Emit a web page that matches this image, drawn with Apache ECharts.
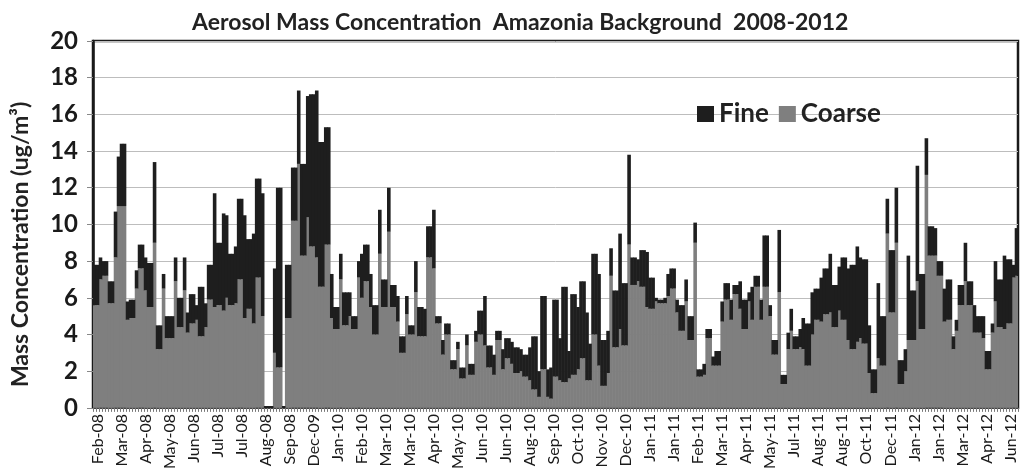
<!DOCTYPE html>
<html>
<head>
<meta charset="utf-8">
<script src="https://cdn.jsdelivr.net/npm/echarts@6/dist/echarts.min.js"></script>
<style>
  html, body { margin: 0; padding: 0; background: #fff; }
  #chart { width: 1021px; height: 472px; }
</style>
</head>
<body>
<div id="chart"></div>
<script>
// tick labels, one every 8 samples (starting at sample 1)
const dateLabels = [
  "Feb-08", "Mar-08", "Apr-08", "May-08", "Jun-08", "Jul-08", "Jul-08", "Aug-08", "Sep-08", "Dec-09",
  "Jan-10", "Feb-10", "Mar-10", "Mar-10", "Apr-10", "May-10", "Jun-10", "Jun-10", "Aug-10", "Sep-10",
  "Oct-10", "Nov-10", "Dec-10", "Jan-11", "Jan-11", "Feb-11", "Mar-11", "Apr-11", "May-11", "Jul-11",
  "Aug-11", "Aug-11", "Oct-11", "Dec-11", "Jan-12", "Jan-12", "Mar-12", "Apr-12", "Jun-12"
];

// coarse mode (bottom, grey), ug/m3
const coarse = [
  5.6, 5.6, 7.0, 7.2, 7.2, 5.7, 5.7, 8.2, 11.0, 11.0,
  11.0, 4.8, 4.9, 4.9, 6.5, 7.6, 7.6, 6.4, 5.5, 5.5,
  9.0, 3.2, 3.2, 6.5, 3.8, 3.8, 3.8, 6.9, 4.4, 4.4,
  6.4, 4.1, 4.6, 4.6, 4.8, 3.9, 3.9, 4.4, 5.9, 5.9,
  5.5, 5.6, 5.6, 5.3, 6.0, 5.6, 5.6, 5.7, 7.0, 7.0,
  4.9, 5.4, 5.4, 4.6, 7.1, 7.1, 5.0, 0, 0, 0,
  3.0, 2.2, 2.2, 0, 4.9, 4.9, 10.2, 10.2, 13.3, 8.3,
  8.3, 10.4, 8.8, 8.8, 8.2, 6.6, 6.6, 8.9, 8.9, 4.9,
  4.3, 4.3, 7.0, 4.5, 4.5, 5.0, 4.3, 4.3, 7.1, 6.0,
  6.9, 6.9, 5.5, 4.0, 4.0, 8.4, 5.5, 5.5, 9.6, 5.5,
  5.5, 4.7, 3.0, 3.0, 5.1, 4.0, 4.0, 6.3, 3.9, 3.9,
  3.9, 8.2, 8.2, 7.6, 4.6, 4.6, 2.9, 4.0, 4.0, 2.1,
  2.1, 3.2, 1.6, 1.6, 3.4, 1.8, 1.8, 3.6, 4.0, 4.0,
  3.4, 2.2, 2.2, 1.8, 3.7, 3.7, 2.1, 2.7, 2.7, 2.4,
  1.9, 1.9, 2.0, 1.7, 1.7, 1.5, 1.0, 1.0, 0.6, 2.1,
  2.1, 0.6, 0.5, 1.7, 1.7, 1.5, 1.4, 1.4, 1.6, 1.8,
  1.8, 2.1, 2.7, 2.7, 1.5, 1.5, 4.0, 4.0, 2.3, 1.2,
  1.2, 1.9, 7.2, 3.3, 3.3, 4.3, 3.4, 3.4, 8.9, 6.7,
  6.7, 6.9, 6.6, 6.6, 5.5, 5.4, 5.4, 5.8, 5.7, 5.7,
  5.7, 6.1, 6.5, 6.5, 5.2, 4.2, 4.2, 5.8, 3.7, 3.7,
  9.0, 1.7, 1.7, 1.8, 3.8, 3.8, 2.3, 2.3, 2.3, 4.7,
  5.9, 5.9, 4.8, 6.2, 6.2, 5.4, 4.3, 4.3, 5.8, 4.8,
  6.6, 6.6, 4.8, 6.6, 6.6, 5.0, 2.9, 2.9, 6.3, 1.3,
  1.3, 3.2, 4.2, 3.2, 3.2, 3.3, 3.2, 2.3, 2.3, 4.0,
  4.8, 4.8, 4.7, 5.1, 5.1, 5.2, 4.4, 4.4, 5.3, 4.8,
  4.8, 3.7, 3.2, 3.2, 3.6, 3.8, 3.5, 3.5, 1.9, 0.8,
  0.8, 2.7, 2.3, 2.3, 9.5, 5.2, 5.2, 9.0, 1.3, 1.3,
  2.0, 3.7, 3.7, 3.7, 6.9, 4.3, 4.3, 12.7, 8.3, 8.3,
  8.3, 7.2, 7.2, 4.7, 4.8, 4.8, 3.2, 4.2, 5.6, 5.6,
  6.9, 5.6, 5.6, 4.1, 4.1, 4.1, 3.8, 2.1, 2.1, 4.1,
  5.8, 4.4, 4.4, 4.3, 4.6, 4.6, 7.1, 7.2
];

// fine mode (stacked on top, black), ug/m3
const fine = [
  2.2, 2.2, 1.2, 0.8, 0.8, 1.2, 1.2, 2.5, 2.7, 3.4,
  3.4, 1.0, 1.0, 1.0, 1.0, 1.3, 1.3, 1.8, 2.4, 2.4,
  4.4, 1.3, 1.3, 0.8, 1.2, 1.2, 1.2, 1.3, 1.6, 1.6,
  1.8, 1.1, 1.6, 1.6, 0.8, 2.7, 2.7, 1.3, 1.9, 1.9,
  6.2, 3.4, 3.4, 5.3, 4.5, 2.8, 2.8, 3.1, 4.4, 4.4,
  5.6, 3.8, 3.8, 4.9, 5.4, 5.4, 6.7, 0.1, 0.1, 0.1,
  4.6, 9.8, 9.8, 0.1, 2.9, 2.9, 2.9, 2.9, 4.0, 5.0,
  5.0, 6.6, 8.3, 8.3, 9.1, 7.9, 7.9, 6.4, 6.4, 2.4,
  1.2, 1.2, 1.4, 1.8, 1.8, 1.3, 0.7, 0.7, 0.9, 2.4,
  2.0, 2.0, 1.8, 1.6, 1.6, 2.4, 1.5, 1.5, 2.4, 1.2,
  1.2, 1.4, 0.9, 0.9, 1.0, 0.5, 0.5, 1.7, 1.6, 1.6,
  1.5, 1.7, 1.7, 3.2, 0.4, 0.4, 0.8, 0.6, 0.6, 0.5,
  0.5, 0.4, 0.6, 0.6, 0.6, 0.6, 0.6, 0.6, 1.3, 1.3,
  2.7, 1.2, 1.2, 1.1, 0.5, 0.5, 1.1, 1.1, 1.1, 1.2,
  1.4, 1.4, 1.2, 1.2, 1.2, 1.8, 2.9, 2.9, 1.4, 4.0,
  4.0, 1.5, 1.7, 4.2, 4.2, 2.3, 5.2, 5.2, 1.5, 4.4,
  4.4, 3.4, 4.2, 4.2, 3.7, 2.0, 4.4, 4.4, 5.0, 2.5,
  2.5, 2.3, 1.5, 3.1, 3.1, 5.2, 3.4, 3.4, 4.9, 1.5,
  1.5, 1.2, 2.0, 2.0, 3.0, 1.7, 1.7, 0.2, 0.2, 0.2,
  0.3, 1.2, 1.1, 1.1, 0.7, 1.4, 1.4, 1.2, 1.3, 1.3,
  1.1, 0.4, 0.4, 0.6, 0.5, 0.5, 0.5, 0.8, 0.8, 1.1,
  0.9, 0.9, 1.1, 0.5, 0.5, 1.5, 1.6, 1.6, 0.5, 1.8,
  0.6, 0.6, 1.1, 2.8, 2.8, 0.6, 0.8, 0.8, 3.4, 0.5,
  0.5, 0.9, 1.2, 0.7, 0.7, 1.0, 1.7, 2.3, 2.3, 2.3,
  1.7, 1.7, 2.4, 2.5, 2.5, 3.2, 2.3, 2.3, 2.4, 3.4,
  3.4, 3.9, 4.6, 4.6, 5.2, 4.4, 4.6, 4.6, 2.6, 1.3,
  1.3, 4.1, 2.7, 2.7, 1.9, 3.4, 3.4, 3.0, 1.3, 1.3,
  1.2, 4.6, 2.7, 2.7, 6.3, 3.0, 3.0, 2.0, 1.6, 1.6,
  1.5, 0.8, 0.8, 1.8, 2.2, 2.2, 0.7, 0.6, 1.1, 1.1,
  2.1, 1.3, 1.3, 1.5, 0.9, 0.9, 1.2, 1.0, 1.0, 0.5,
  2.2, 2.6, 2.6, 4.0, 3.5, 3.5, 0.7, 2.6
];

const samples = coarse.map((_, i) => "s" + i);
const showLabel = (i) => i % 8 === 1;

const chart = echarts.init(document.getElementById("chart"));

chart.setOption({
  animation: false,
  title: {
    text: "Aerosol Mass Concentration  Amazonia Background  2008-2012",
    left: 187,
    top: 6,
    textStyle: { fontFamily: "Lato", fontWeight: "bold", fontSize: 23, color: "#222" },
  },
  legend: {
    data: ["Fine", "Coarse"],
    left: 692,
    top: 96,
    icon: "rect",
    itemWidth: 17,
    itemHeight: 16,
    itemGap: 10,
    textStyle: { fontFamily: "Lato", fontWeight: "bold", fontSize: 26, color: "#222" },
  },
  grid: {
    left: 93,
    right: 3,
    top: 41,
    bottom: 64,
    show: true,
    borderColor: "#1a1a1a",
    borderWidth: 2.5,
  },
  xAxis: {
    type: "category",
    data: samples,
    axisLine: { lineStyle: { color: "#444", width: 1 } },
    axisTick: { show: true, interval: 0, length: 4, lineStyle: { color: "#777" } },
    axisLabel: {
      interval: (i) => showLabel(i),
      rotate: 90,
      margin: 6,
      fontFamily: "Lato",
      fontSize: 16,
      color: "#1a1a1a",
      formatter: (v, i) => (showLabel(i) ? dateLabels[(i - 1) / 8] : ""),
    },
  },
  yAxis: {
    type: "value",
    min: 0,
    max: 20,
    interval: 2,
    name: "Mass Concentration (ug/m³)",
    nameLocation: "middle",
    nameGap: 61,
    nameTextStyle: { fontFamily: "Lato", fontWeight: "bold", fontSize: 23, color: "#222", padding: [0, 40, 0, 0] },
    axisLine: { show: true, lineStyle: { color: "#1a1a1a", width: 2.5 } },
    axisTick: { show: true, length: 6, lineStyle: { color: "#888" } },
    axisLabel: { fontFamily: "Lato", fontWeight: "bold", fontSize: 24, color: "#1a1a1a", margin: 15 },
    splitLine: { lineStyle: { color: "#bdbdbd", width: 1 } },
  },
  series: [
    {
      name: "Coarse",
      type: "bar",
      stack: "mass",
      data: coarse,
      barWidth: 3.6,
      barGap: "0%",
      itemStyle: { color: "#7f7f7f" },
    },
    {
      name: "Fine",
      type: "bar",
      stack: "mass",
      data: fine,
      barWidth: 3.6,
      barGap: "0%",
      itemStyle: { color: "#1e1e1e" },
    },
  ],
});
</script>
</body>
</html>
